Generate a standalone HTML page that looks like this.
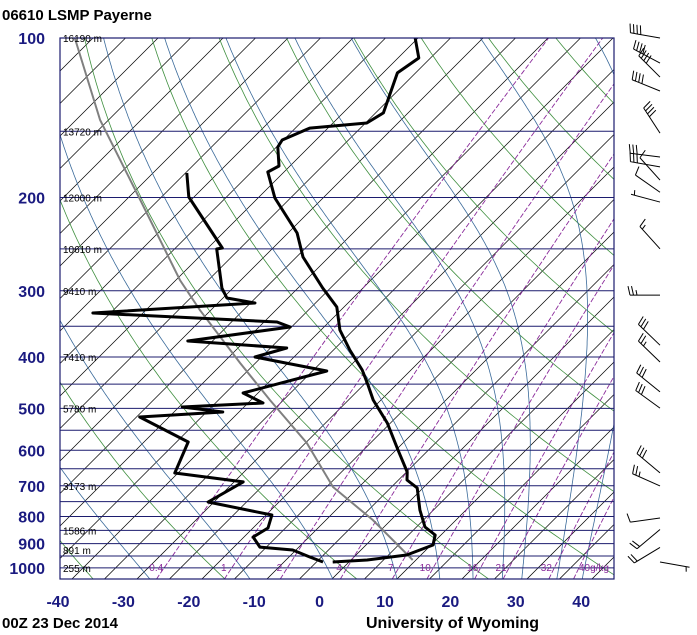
<!DOCTYPE html>
<html><head><meta charset="utf-8"><style>
html,body{margin:0;padding:0;background:#fff;}
svg{display:block;font-family:"Liberation Sans",Arial,sans-serif;}
</style></head><body>
<svg id="chart" width="697" height="635" viewBox="0 0 697 635" xmlns="http://www.w3.org/2000/svg">
<defs><clipPath id="plotclip"><rect x="60" y="38" width="554" height="541"/></clipPath></defs>
<text x="2" y="20" font-size="15" font-weight="bold" fill="#000">06610 LSMP Payerne</text>
<g id="bg" clip-path="url(#plotclip)"></g>
<g id="traces" clip-path="url(#plotclip)"></g>
<rect x="60" y="38" width="554" height="541" fill="none" stroke="#1c1c6e" stroke-width="1.2"/>
<g id="labels"></g>
<g id="barbs"></g>
<text x="2" y="628" font-size="15" font-weight="bold" fill="#000">00Z 23 Dec 2014</text>
<text x="366" y="628" font-size="16" font-weight="bold" fill="#000">University of Wyoming</text>
</svg>
<script>
const tempP=[99.6,109.1,116.4,138.5,144.7,147.9,155.8,160.6,174.4,179,200.4,233.4,259,296.4,321.9,355.7,388,423.3,451.8,482.2,532.9,599.2,659.3,682.6,706.7,777.7,837.3,866.9,905.5,945.8,966.7,975.2];
const tempT=[-70.6,-66.8,-67.8,-63.8,-64.8,-72.8,-75.2,-74.8,-71.7,-72.5,-67.4,-58.6,-54,-46.2,-41.1,-37.1,-32.5,-27.5,-24.3,-21.2,-15.5,-9.7,-4.9,-3.7,-0.9,2.9,6.3,9.1,10.3,7.8,2.5,-2.5];
const dewP=[179.8,199.6,249.1,250.2,296.4,309.6,316.4,330.4,343.6,351.1,373.1,384.7,400,425.1,467.7,488.5,497.2,508,519.2,578.8,662.2,688.5,751.3,794.8,840.9,874.6,913.7,925.6,954.2,975.2];
const dewT=[-84.8,-80.8,-67.8,-68.5,-61.7,-59.4,-54.3,-77.7,-48,-45.2,-58.8,-42.5,-46,-32.8,-42.3,-37.7,-49.5,-42.5,-54.5,-43.2,-40.5,-28.6,-30.9,-19.1,-17.7,-18.6,-16,-10.5,-6.8,-4];
const parcelP=[100,142.8,202.2,286.3,326.2,410.5,482.2,581.4,703.8,812.4,966.7];
const parcelT=[-122.8,-106.3,-87.8,-69.4,-61.7,-47.4,-37.1,-24.8,-14,-2.8,9.5];
const pressureTicks=[100,200,300,400,500,600,700,800,900,1000];
const tempTicks=[-40,-30,-20,-10,0,10,20,30,40];
const heightP=[100,150,200,250,300,400,500,700,850,925,1000];
const heightLabels=["16190 m","13720 m","12000 m","10610 m","9410 m","7410 m","5780 m","3173 m","1586 m","891 m","255 m"];
const mixRatios=[0.4,1,2,4,7,10,16,21,32,40];
const mixLabels=["0.4","1","2","4","7","10","16","21","32","40g/kg"];
const barbP=[100,111.5,118.5,125.9,151.2,167.7,175.1,185.4,195.5,204,250,305.7,380,408.8,465.5,499.6,662,700.6,805.3,846.6,915.4,975];
const barbDir=[280,298,315,292,327,277,280,318,305,285,318,270,314,314,309,306,310,294,262,230,239,100];
const barbSpd=[40,40,40,40,40,30,30,10,10,5,15,25,30,25,30,30,30,25,10,20,20,5];

const NS="http://www.w3.org/2000/svg";
function yP(p){return 38+230.1*Math.log(p/100);}
function xT(T,p){return 72+6.5*(T+40)+(579-yP(p));}
function mk(tag,attrs,parent){const e=document.createElementNS(NS,tag);for(const k in attrs)e.setAttribute(k,attrs[k]);parent.appendChild(e);return e;}
const bg=document.getElementById('bg'),tr=document.getElementById('traces'),lab=document.getElementById('labels'),bb=document.getElementById('barbs');
function pathFrom(pts){return pts.map((q,i)=>(i?'L':'M')+q[0].toFixed(1)+' '+q[1].toFixed(1)).join(' ');}
const plevs=[];for(let lp=Math.log(1050);lp>=Math.log(100)-1e-9;lp-=0.02)plevs.push(Math.exp(lp));plevs.push(100);

for(let T=-170;T<=50;T+=5){
  const l=mk('line',{x1:xT(T,1050),y1:yP(1050),x2:xT(T,100),y2:yP(100),stroke:'#000',"stroke-width":0.7},bg);
  
  
}
for(let th=-100;th<=260;th+=20){
  const pts=plevs.map(p=>[xT((th+273.15)*Math.pow(p/1000,0.2857)-273.15,p),yP(p)]);
  const e=mk('path',{d:pathFrom(pts),fill:'none',stroke:'#3f8f3f',"stroke-width":0.8},bg);
  
  
}
function es(Tc){return 6.112*Math.exp(17.67*Tc/(Tc+243.5));}
function dTdlnp(TK,p){const e=es(TK-273.15);const rs=0.622*e/(p-e);const Rd=287,cp=1004,L=2.5e6;return (Rd*TK+L*rs)/(cp+L*L*rs*0.622/(Rd*TK*TK));}
const moistStart=[-108,-92,-76,-60,-44,-28,-12.6,0.15,10,16.6,21.7,26.2,29.2,34.6,38.5];
moistStart.forEach(t0=>{
  let T=t0+273.15,lp=Math.log(1050);const pts=[[xT(t0,1050),yP(1050)]];const h=-0.01;
  while(lp>Math.log(100)){const p=Math.exp(lp);const k1=dTdlnp(T,p);const k2=dTdlnp(T+h*k1,Math.exp(lp+h));T+=h*(k1+k2)/2;lp+=h;const pp=Math.exp(lp);pts.push([xT(T-273.15,pp),yP(pp)]);}
  const e=mk('path',{d:pathFrom(pts),fill:'none',stroke:'#3a6a9a',"stroke-width":0.8},bg);
  
  
});
function tdFromW(w,p){const e=w*p/(622+w);const a=Math.log(e/6.112);return 243.5*a/(17.67-a);}
mixRatios.forEach((w,i)=>{
  const pts=plevs.map(p=>[xT(tdFromW(w,p),p),yP(p)]);
  const e=mk('path',{d:pathFrom(pts),fill:'none',stroke:'#8a2a9a',"stroke-width":0.9,"stroke-dasharray":"5,2"},bg);
  
  
  const x=xT(tdFromW(w,1000),1000)-8;
  const t=mk('text',{x:i==mixRatios.length-1?x+8:x,y:571,"font-size":10,fill:'#8a2a9a',"text-anchor":i==mixRatios.length-1?'start':'middle'},lab);
  t.textContent=mixLabels[i];
  
  
});
for(let p=150;p<=1050;p+=50){
  const l=mk('line',{x1:60,x2:614,y1:yP(p),y2:yP(p),stroke:'#1c1c6e',"stroke-width":1},bg);
  
  
}
(function(){const pts=parcelP.map((p,i)=>[xT(parcelT[i],p),yP(p)]);
const e=mk('path',{d:pathFrom(pts),fill:'none',stroke:'#808080',"stroke-width":2},tr);

})();
(function(){const pts=tempP.map((p,i)=>[xT(tempT[i],p),yP(p)]);
const e=mk('path',{d:pathFrom(pts),fill:'none',stroke:'#000',"stroke-width":3,"stroke-linejoin":"round"},tr);


const pts2=dewP.map((p,i)=>[xT(dewT[i],p),yP(p)]);
const e2=mk('path',{d:pathFrom(pts2),fill:'none',stroke:'#000',"stroke-width":3,"stroke-linejoin":"round"},tr);

})();
pressureTicks.forEach(p=>{
  const t=mk('text',{x:45,y:yP(p)+6,"font-size":16,"font-weight":"bold",fill:'#1a1a80',"text-anchor":"end"},lab);
  t.textContent=String(p);
  
  
});
tempTicks.forEach(T=>{
  const t=mk('text',{x:58+(T+40)*6.54,y:607,"font-size":16,"font-weight":"bold",fill:'#1a1a80',"text-anchor":"middle"},lab);
  t.textContent=String(T);
  
  
});
heightP.forEach((p,i)=>{
  const t=mk('text',{x:63,y:yP(p)+4,"font-size":10,fill:'#000'},lab);
  t.textContent=heightLabels[i];
  
  
});
barbP.forEach((p,i)=>{
  const d=barbDir[i]*Math.PI/180;const sx=Math.sin(d),sy=-Math.cos(d);const nx=-sy,ny=sx;
  const x0=660,y0=yP(p),L=30;const tx=x0+L*sx,ty=y0+L*sy;
  const g=mk('g',{stroke:'#000',"stroke-width":1,fill:'none'},bb);
  
  
  mk('line',{x1:x0,y1:y0,x2:tx,y2:ty},g);
  let spd=barbSpd[i],k=0;
  while(spd>=10){const px=tx-k*3.5*sx,py=ty-k*3.5*sy;mk('line',{x1:px,y1:py,x2:px+9*nx+2*sx,y2:py+9*ny+2*sy},g);spd-=10;k++;}
  if(spd>=5){if(k==0)k=1;const px=tx-k*3.5*sx,py=ty-k*3.5*sy;mk('line',{x1:px,y1:py,x2:px+5*nx+1*sx,y2:py+5*ny+1*sy},g);}
});
</script>
</body></html>
